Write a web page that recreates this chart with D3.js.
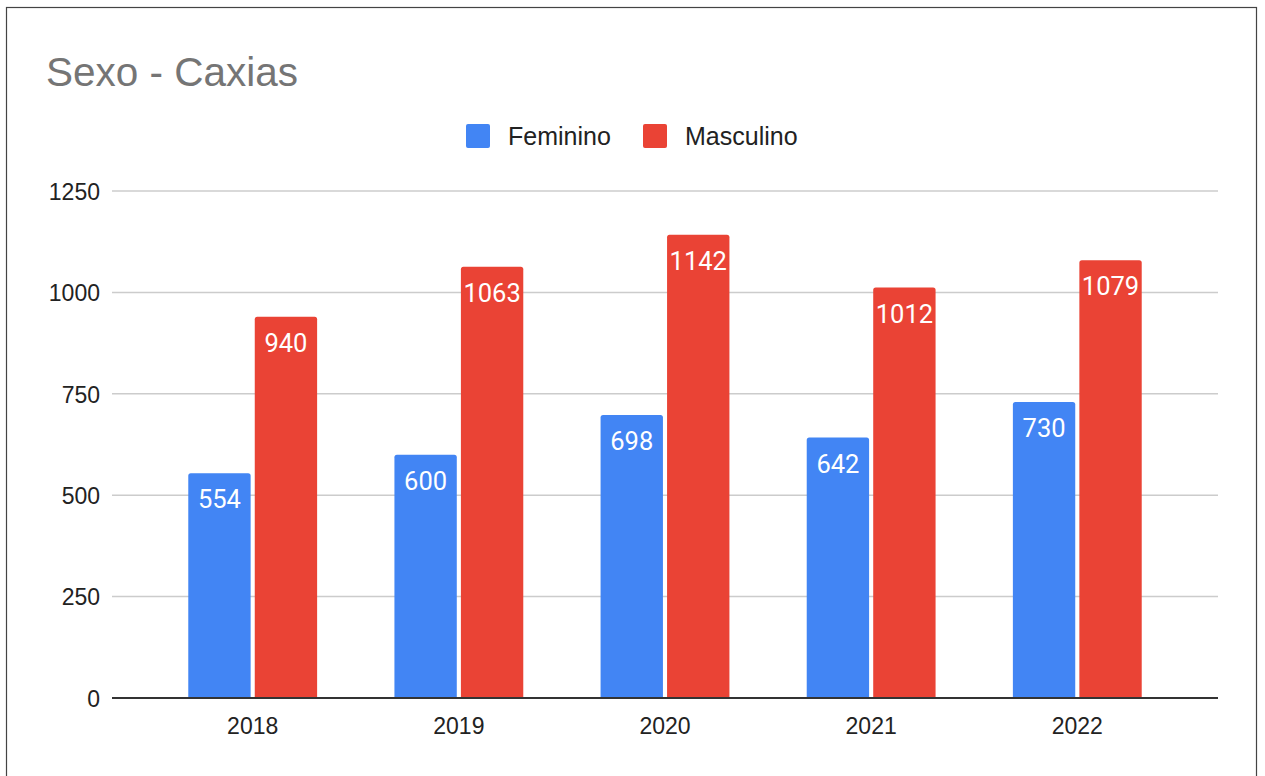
<!DOCTYPE html>
<html>
<head>
<meta charset="utf-8">
<script src="https://cdn.jsdelivr.net/npm/d3@7"></script>
<style>
  body { margin: 0; background: #fff; }
  svg { display: block; }
</style>
</head>
<body>
<script>
var years = ['2018', '2019', '2020', '2021', '2022'];
var feminino = [554, 600, 698, 642, 730];
var masculino = [940, 1063, 1142, 1012, 1079];
var seriesNames = ['Feminino', 'Masculino'];
var yTicks = [0, 250, 500, 750, 1000, 1250];

const WIDTH = 1265;
const HEIGHT = 776;
var colors = { Feminino: '#4285f4', Masculino: '#ea4335' };
var plotLeft = 112, plotRight = 1218, plotTop = 191, plotBottom = 698;

var svg = d3.select('body').append('svg')
    .attr('width', WIDTH)
    .attr('height', HEIGHT);

// frame
svg.append('rect')
    .attr('x', 6.5).attr('y', 7.5)
    .attr('width', 1250).attr('height', 800)
    .attr('fill', '#fff')
    .attr('stroke', '#444')
    .attr('stroke-width', 1.2);

svg.append('text')
    .attr('x', 46).attr('y', 86)
    .attr('fill', '#757575')
    .style('font-family', 'Liberation Sans, Arial, sans-serif')
    .style('font-size', '40.5px')
    .text('Sexo - Caxias');

var xScale = d3.scaleBand()
    .domain(years)
    .range([plotLeft, plotRight])
    .paddingInner(0.375)
    .paddingOuter(0.37);

var xInner = d3.scaleBand()
    .domain(seriesNames)
    .range([0, xScale.bandwidth()])
    .paddingInner(0.062);

var yScale = d3.scaleLinear()
    .domain([0, 1250])
    .range([plotBottom, plotTop]);

// gridlines
svg.append('g').selectAll('line')
    .data(yTicks.filter(function(d) { return d > 0; }))
    .enter().append('line')
    .attr('x1', plotLeft).attr('x2', plotRight)
    .attr('y1', function(d) { return yScale(d); })
    .attr('y2', function(d) { return yScale(d); })
    .attr('stroke', '#cccccc')
    .attr('stroke-width', 1.5);

var yAxis = svg.append('g')
    .attr('transform', 'translate(' + (plotLeft - 12) + ',1)')
    .call(d3.axisLeft(yScale).tickValues(yTicks).tickFormat(d3.format('d')).tickSize(0).tickPadding(0));
yAxis.select('.domain').remove();
yAxis.selectAll('text')
    .attr('fill', '#222')
    .style('font-family', 'Liberation Sans, Arial, sans-serif')
    .style('font-size', '23px');

var rows = years.map(function(y, i) {
    return { year: y, values: [
        { name: 'Feminino', value: feminino[i] },
        { name: 'Masculino', value: masculino[i] }
    ] };
});

function barPath(x, y, w, h, r) {
    return 'M' + x + ',' + (y + h) +
        'V' + (y + r) +
        'Q' + x + ',' + y + ' ' + (x + r) + ',' + y +
        'H' + (x + w - r) +
        'Q' + (x + w) + ',' + y + ' ' + (x + w) + ',' + (y + r) +
        'V' + (y + h) + 'Z';
}

var groups = svg.selectAll('.grp')
    .data(rows)
    .enter().append('g')
    .attr('class', 'grp')
    .attr('transform', function(d) { return 'translate(' + xScale(d.year) + ',0)'; });

groups.selectAll('path')
    .data(function(d) { return d.values; })
    .enter().append('path')
    .attr('d', function(d) {
        return barPath(xInner(d.name), yScale(d.value), xInner.bandwidth(), plotBottom - yScale(d.value), 2.5);
    })
    .attr('fill', function(d) { return colors[d.name]; });

groups.selectAll('text')
    .data(function(d) { return d.values; })
    .enter().append('text')
    .attr('x', function(d) { return xInner(d.name) + xInner.bandwidth() / 2; })
    .attr('y', function(d) { return yScale(d.value) + 35; })
    .attr('text-anchor', 'middle')
    .attr('fill', '#fff')
    .style('font-family', 'Roboto, sans-serif')
    .style('font-size', '25.5px')
    .text(function(d) { return d.value; });

// baseline
svg.append('line')
    .attr('x1', plotLeft).attr('x2', plotRight)
    .attr('y1', plotBottom).attr('y2', plotBottom)
    .attr('stroke', '#333')
    .attr('stroke-width', 2);

var xAxis = svg.append('g')
    .attr('transform', 'translate(0,' + plotBottom + ')')
    .call(d3.axisBottom(xScale).tickSize(0).tickPadding(20));
xAxis.select('.domain').remove();
xAxis.selectAll('text')
    .attr('fill', '#222')
    .style('font-family', 'Liberation Sans, Arial, sans-serif')
    .style('font-size', '23px');

// legend
var legendItems = [
    { name: 'Feminino', x: 466 },
    { name: 'Masculino', x: 643 }
];
var legend = svg.append('g');
legend.selectAll('rect')
    .data(legendItems)
    .enter().append('rect')
    .attr('x', function(d) { return d.x; })
    .attr('y', 124)
    .attr('width', 24).attr('height', 24)
    .attr('rx', 2)
    .attr('fill', function(d) { return colors[d.name]; });
legend.selectAll('text')
    .data(legendItems)
    .enter().append('text')
    .attr('x', function(d) { return d.x + 42; })
    .attr('y', 145)
    .attr('fill', '#222')
    .style('font-family', 'Liberation Sans, Arial, sans-serif')
    .style('font-size', '25px')
    .text(function(d) { return d.name; });
</script>
</body>
</html>
